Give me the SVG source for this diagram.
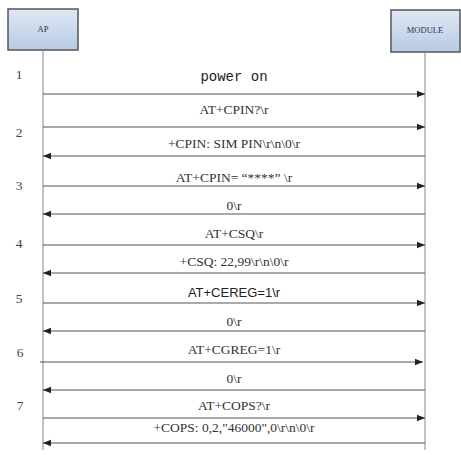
<svg xmlns="http://www.w3.org/2000/svg" width="461" height="455" viewBox="0 0 461 455">
<style>
.lbl{font-family:"Liberation Serif","Times New Roman",serif;font-size:13.5px;fill:#333;text-anchor:middle}
.num{font-family:"Liberation Serif","Times New Roman",serif;font-size:13.5px;fill:#444;text-anchor:middle}
.mono{font-family:"Liberation Mono","Courier New",monospace;font-size:14px;fill:#222;text-anchor:middle}
.sans{font-family:"Liberation Sans",Arial,sans-serif;font-size:13px;fill:#222;text-anchor:middle}
.box{fill:url(#g);stroke:#555;stroke-width:1.5}
.boxt{font-family:"Liberation Serif","Times New Roman",serif;font-size:8.5px;fill:#2a3550;text-anchor:middle}
.life{stroke:#888;stroke-width:1}
.msg{stroke:#555;stroke-width:1;fill:none}
.r{marker-end:url(#ah)}
</style>
<defs>
<linearGradient id="g" x1="0" y1="0" x2="0" y2="1">
<stop offset="0" stop-color="#dfe8f4"/>
<stop offset="1" stop-color="#b7cbe4"/>
</linearGradient>
<marker id="ah" viewBox="0 0 10 10" refX="10" refY="5" markerWidth="8" markerHeight="8" markerUnits="userSpaceOnUse" orient="auto-start-reverse">
<path d="M0,1 L10,5 L0,9 z" fill="#222"/>
</marker>
</defs>
<rect width="461" height="455" fill="#fff"/>
<g id="AP">
<rect class="box" x="8" y="9" width="70" height="41"/>
<text class="boxt" x="43" y="32">AP</text>
</g>
<g id="MODULE">
<rect class="box" x="391" y="10" width="69" height="42"/>
<text class="boxt" x="425" y="33">MODULE</text>
</g>
<g id="lifelines">
<line class="life" x1="43" y1="50" x2="43" y2="450"/>
<line class="life" x1="425" y1="52" x2="425" y2="450"/>
</g>
<g id="steps">
<text class="num" x="19" y="79">1</text>
<text class="num" x="19" y="137">2</text>
<text class="num" x="19" y="190">3</text>
<text class="num" x="19" y="248">4</text>
<text class="num" x="19" y="303">5</text>
<text class="num" x="20" y="357">6</text>
<text class="num" x="20" y="410">7</text>
</g>
<g id="connectors">
<line class="msg r" x1="43" y1="94" x2="425" y2="94"/>
<line class="msg r" x1="43" y1="127" x2="425" y2="127"/>
<line class="msg r" x1="425" y1="156" x2="43" y2="156"/>
<line class="msg r" x1="43" y1="186" x2="425" y2="186"/>
<line class="msg r" x1="425" y1="214" x2="43" y2="214"/>
<line class="msg r" x1="43" y1="245" x2="425" y2="245"/>
<line class="msg r" x1="425" y1="273" x2="43" y2="273"/>
<line class="msg r" x1="43" y1="303" x2="425" y2="303"/>
<line class="msg r" x1="425" y1="331" x2="43" y2="331"/>
<line class="msg r" x1="40" y1="362" x2="423" y2="362"/>
<line class="msg r" x1="425" y1="390" x2="43" y2="390"/>
<line class="msg r" x1="43" y1="418" x2="425" y2="418"/>
<line class="msg r" x1="425" y1="443" x2="43" y2="443"/>
</g>
<g id="labels">
<text class="mono" x="234" y="81">power on</text>
<text class="lbl" x="234" y="114">AT+CPIN?\r</text>
<text class="lbl" x="234" y="148">+CPIN: SIM PIN\r\n\0\r</text>
<text class="lbl" x="234" y="182">AT+CPIN= “****” \r</text>
<text class="lbl" x="234" y="210">0\r</text>
<text class="lbl" x="234" y="238">AT+CSQ\r</text>
<text class="lbl" x="234" y="266">+CSQ: 22,99\r\n\0\r</text>
<text class="sans" x="234" y="297">AT+CEREG=1\r</text>
<text class="lbl" x="234" y="326">0\r</text>
<text class="lbl" x="234" y="354">AT+CGREG=1\r</text>
<text class="lbl" x="234" y="383">0\r</text>
<text class="lbl" x="234" y="410">AT+COPS?\r</text>
<text class="lbl" x="234" y="432">+COPS: 0,2,"46000",0\r\n\0\r</text>
</g>
</svg>
